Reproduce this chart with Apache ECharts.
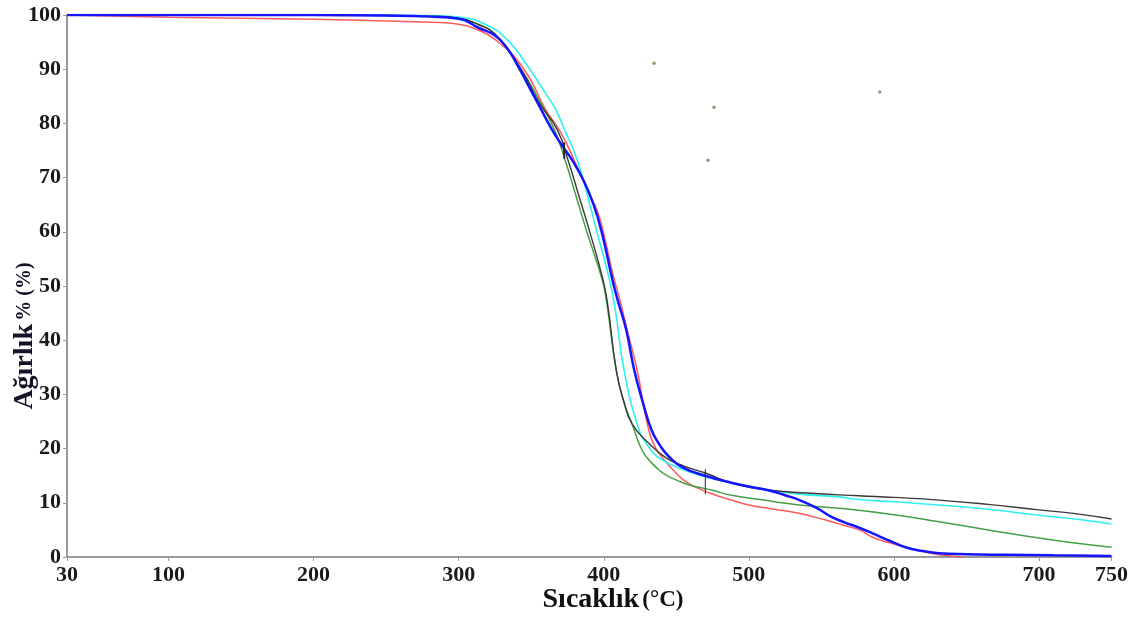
<!DOCTYPE html>
<html>
<head>
<meta charset="utf-8">
<script src="https://cdn.jsdelivr.net/npm/echarts@6/dist/echarts.min.js"></script>
<style>
  html, body { margin: 0; padding: 0; background: #fff; }
  #chart { width: 1131px; height: 617px; }
</style>
</head>
<body>
<div id="chart"></div>
<script>
// TGA mass-loss curves (temperature in °C, remaining mass in %)
const xTicks = [30, 100, 200, 300, 400, 500, 600, 700, 750];

const redT = [30, 100, 200, 250, 287, 300, 310, 325, 345, 360, 370, 380, 389, 396, 401, 406, 411, 417, 423, 431, 436, 440, 448, 457, 473, 488, 500, 515, 530, 545, 557, 566, 576, 585, 597, 608, 620, 631, 648];
const redW = [100, 99.6, 99.2, 98.9, 98.6, 98.3, 97.6, 95.5, 90, 82.5, 78.5, 73, 67.5, 63.5, 58.5, 52.5, 47.5, 41, 34.5, 23.4, 20, 18.5, 16, 13.8, 11.8, 10.5, 9.6, 8.9, 8.3, 7.4, 6.5, 5.8, 5.0, 3.7, 2.6, 1.8, 1.0, 0.4, 0];

const greenT = [30, 200, 280, 300, 314, 325, 343, 355, 366, 374, 381, 388, 399, 402, 408.6, 414, 419.6, 425, 429.3, 437, 443, 451, 459, 475, 488, 510, 535, 562, 600, 631, 665, 700, 725, 750];
const greenW = [100, 100, 99.8, 99.4, 98.2, 96.5, 90, 84.5, 78.8, 72.7, 66.5, 60.3, 51.1, 47, 34.5, 28.5, 24.5, 20.5, 18.5, 16.3, 15.1, 14.1, 13.3, 12.3, 11.4, 10.5, 9.6, 9.0, 7.8, 6.5, 5.0, 3.5, 2.6, 1.8];

const cyanT = [30, 200, 280, 300, 319, 335, 348, 360, 367, 373, 381, 388, 395, 404, 408, 414, 424.4, 431, 437, 450, 470, 488, 510, 535, 562, 576, 600, 631, 665, 700, 725, 750];
const cyanW = [100, 100, 99.9, 99.6, 98.2, 95, 90.4, 85.5, 82.5, 78.8, 73.8, 67.5, 60.3, 51.1, 45.5, 34.5, 23.4, 20.3, 18.5, 16.6, 14.8, 13.7, 12.5, 11.6, 11.1, 10.6, 10.2, 9.6, 8.8, 7.7, 7.0, 6.1];

const blackT = [30, 200, 280, 300, 314, 325, 343, 355, 368, 376, 383, 390, 399.5, 403, 408.6, 414, 419.6, 431, 443, 455, 470, 490, 512, 540, 576, 600, 631, 665, 700, 725, 750];
const blackW = [100, 100, 99.8, 99.4, 98.2, 96.5, 90, 84, 78.8, 72.7, 66.5, 60.3, 51.1, 46, 34.5, 28.5, 24.5, 21, 18.3, 16.8, 15.5, 13.5, 12.4, 11.8, 11.3, 11.0, 10.5, 9.7, 8.7, 8.0, 7.0];

const blueT = [30, 100, 200, 250, 280, 300, 314, 325, 333, 340, 348, 356, 364, 371, 378, 386, 393, 399, 406, 410, 415.5, 421, 427, 433, 439, 445, 454, 470, 488, 500, 512, 525, 535, 547, 557, 566, 576, 585, 597, 608, 620, 631, 650, 677, 710, 750];
const blueW = [100, 100, 100, 99.9, 99.7, 99.3, 97.6, 96.2, 94, 91, 87, 83, 79, 76, 73.3, 69.5, 65, 59.5, 51.1, 47, 41.9, 34.5, 28.5, 23.4, 20.5, 18.5, 16.6, 15, 13.7, 13.0, 12.4, 11.4, 10.5, 9, 7.4, 6.4, 5.4, 4.4, 3, 1.8, 1.1, 0.7, 0.5, 0.4, 0.3, 0.2];

// small onset markers and stray specks on the plot
const markAT = [470, 470];
const markAW = [16.2, 11.6];
const markBT = [372.6, 372.8];
const markBW = [76.5, 73.5];
const speckT = [434.7, 476, 471.9, 590.3];
const speckW = [91.1, 83, 73.2, 85.8];

const pairs = (t, w) => t.map((v, i) => [v, w[i]]);

const serif = '"Liberation Serif", "DejaVu Serif", serif';

function curve(name, t, w, color, width, z) {
  return {
    name: name,
    type: 'line',
    data: pairs(t, w),
    smooth: 0.5,
    showSymbol: false,
    z: z,
    lineStyle: { color: color, width: width },
    emphasis: { disabled: true }
  };
}

const chart = echarts.init(document.getElementById('chart'), null, { renderer: 'canvas' });

chart.setOption({
  animation: false,
  backgroundColor: '#ffffff',
  grid: { left: 67, right: 18, top: 15, bottom: 60 },
  xAxis: {
    type: 'value',
    min: 30,
    max: 750,
    axisLine: { show: true, lineStyle: { color: '#9a9a9a', width: 2 } },
    axisTick: { show: true, customValues: xTicks, length: 4, lineStyle: { color: '#9a9a9a' } },
    axisLabel: {
      customValues: xTicks,
      margin: 7,
      color: '#1a1a1a',
      fontFamily: serif,
      fontWeight: 'bold',
      fontSize: 22
    },
    splitLine: { show: false }
  },
  yAxis: {
    type: 'value',
    min: 0,
    max: 100,
    interval: 10,
    axisLine: { show: true, lineStyle: { color: '#9a9a9a', width: 2 } },
    axisTick: { show: true, length: 4, lineStyle: { color: '#9a9a9a' } },
    axisLabel: {
      margin: 6,
      color: '#1a1a1a',
      fontFamily: serif,
      fontWeight: 'bold',
      fontSize: 22
    },
    splitLine: { show: false }
  },
  graphic: [
    {
      type: 'text',
      x: 613,
      y: 600,
      style: {
        text: '{a|Sıcaklık} {b|(°C)}',
        align: 'center',
        verticalAlign: 'middle',
        rich: {
          a: { fontFamily: serif, fontWeight: 'bold', fontSize: 28, fill: '#111' },
          b: { fontFamily: serif, fontWeight: 'bold', fontSize: 23, fill: '#111' }
        }
      }
    },
    {
      type: 'text',
      x: 25,
      y: 336,
      rotation: Math.PI / 2,
      style: {
        text: '{a|Ağırlık} {b|% (%)}',
        align: 'center',
        verticalAlign: 'middle',
        rich: {
          a: { fontFamily: serif, fontWeight: 'bold', fontSize: 28, fill: '#141428' },
          b: { fontFamily: serif, fontWeight: 'bold', fontSize: 20, fill: '#141428' }
        }
      }
    }
  ],
  series: [
    curve('Red', redT, redW, '#ff5a5a', 1.5, 2),
    curve('Green', greenT, greenW, '#45a045', 1.5, 3),
    curve('Cyan', cyanT, cyanW, '#2ff0f0', 1.6, 4),
    curve('Black', blackT, blackW, '#3a3a3a', 1.4, 5),
    curve('Blue', blueT, blueW, '#1414ff', 2.5, 6),
    {
      type: 'line', data: pairs(markAT, markAW), showSymbol: false, z: 7,
      lineStyle: { color: '#222', width: 1 }
    },
    {
      type: 'line', data: pairs(markBT, markBW), showSymbol: false, z: 7,
      lineStyle: { color: '#222', width: 2 }
    },
    {
      type: 'scatter', data: pairs(speckT, speckW), symbolSize: 3.5, z: 7,
      itemStyle: { color: '#9c7c58', opacity: 0.85 }
    }
  ]
});
</script>
</body>
</html>
